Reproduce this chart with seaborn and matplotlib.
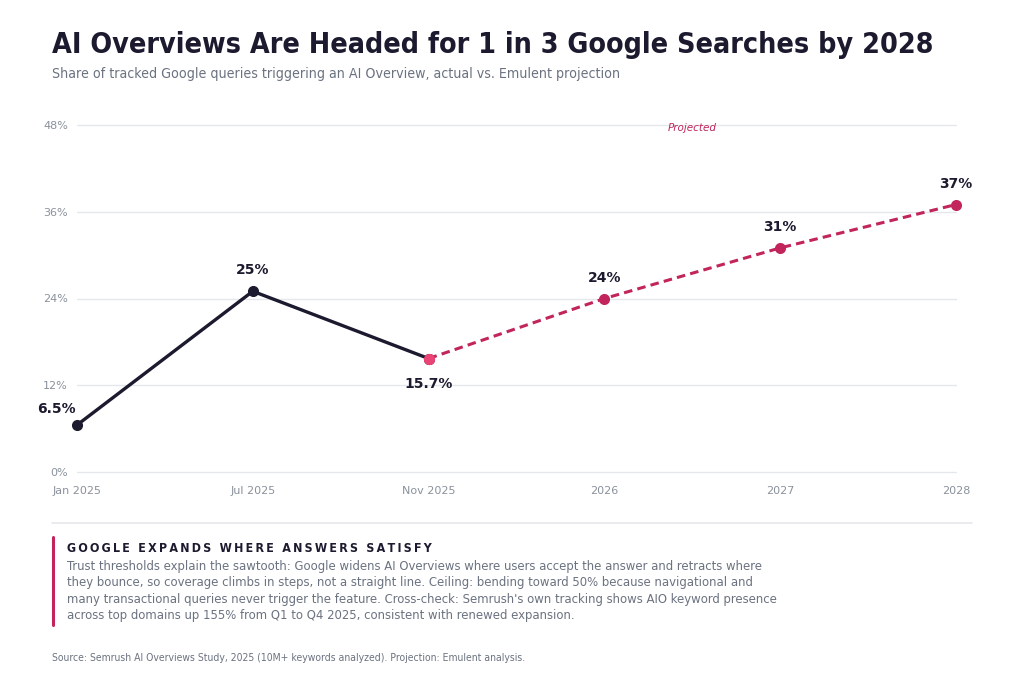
import matplotlib
matplotlib.use("Agg")
import matplotlib.pyplot as plt
import seaborn as sns
import pandas as pd

# Data
periods = ["Jan 2025", "Jul 2025", "Nov 2025", "2026", "2027", "2028"]
actual_idx = [0, 1, 2]
actual_vals = [6.5, 25, 15.7]
proj_idx = [2, 3, 4, 5]
proj_vals = [15.7, 24, 31, 37]
point_labels = ["6.5%", "25%", "15.7%", "24%", "31%", "37%"]
yticks = [0, 12, 24, 36, 48]

# Colours
navy = "#1b1a2e"
crimson = "#c2255c"
pink = "#ea4376"
grey = "#6b7280"
tick_grey = "#8a919b"
grid_grey = "#e5e7eb"

sns.set_theme(style="white")
plt.rcParams["font.family"] = ["DejaVu Sans"]
plt.rcParams["font.stretch"] = "condensed"

fig = plt.figure(figsize=(10.24, 6.83), dpi=100)
ax = fig.add_axes([77 / 1024, 1 - 472 / 683, (956 - 77) / 1024, (472 - 125) / 683])

actual = pd.DataFrame({"x": actual_idx, "y": actual_vals})
proj = pd.DataFrame({"x": proj_idx, "y": proj_vals})

sns.lineplot(data=actual, x="x", y="y", ax=ax, color=navy, lw=2.4,
             marker="o", markersize=8, markeredgewidth=0, zorder=3)
sns.lineplot(data=proj, x="x", y="y", ax=ax, color=crimson, lw=2.2,
             dashes=False, marker="o", markersize=8, markeredgewidth=0,
             zorder=3)
ax.lines[-1].set_linestyle((0, (2.8, 1.7)))
# the Nov 2025 hand-off point in a lighter pink
ax.plot([proj_idx[0]], [proj_vals[0]], "o", color=pink, markersize=8,
        markeredgewidth=0, zorder=4, clip_on=False)
for ln in ax.lines:
    ln.set_clip_on(False)

# value labels
all_idx = actual_idx + proj_idx[1:]
all_vals = actual_vals + proj_vals[1:]
offsets = [(-15, 11.5), (0, 15), (0, -18), (0, 15), (0, 15), (0, 15)]
for i, v, lab, off in zip(all_idx, all_vals, point_labels, offsets):
    ax.annotate(lab, (i, v), xytext=off, textcoords="offset points",
                ha="center", va="center", fontsize=10, fontweight="bold",
                color=navy, fontstretch="normal")

ax.text(3.5, 47.6, "Projected", ha="center", va="center", fontsize=7.5,
        style="italic", color=crimson, fontstretch="normal")

ax.set_xlim(0, len(periods) - 1)
ax.set_ylim(0, 48)
ax.set_xticks(range(len(periods)))
ax.set_xticklabels(periods)
ax.set_yticks(yticks)
ax.set_yticklabels([f"{t}%" for t in yticks])
ax.tick_params(axis="both", labelsize=8, colors=tick_grey, length=0)
ax.tick_params(axis="x", pad=10)
ax.tick_params(axis="y", pad=6.5)
for lab in ax.get_xticklabels() + ax.get_yticklabels():
    lab.set_fontstretch("normal")
ax.set_xlabel("")
ax.set_ylabel("")
ax.grid(axis="y", color=grid_grey, lw=1)
ax.grid(axis="x", visible=False)
for gl in ax.get_ygridlines():
    gl.set_clip_on(False)
for s in ax.spines.values():
    s.set_visible(False)

# titles
fig.text(52 / 1024, 1 - 45 / 683, "AI Overviews Are Headed for 1 in 3 Google Searches by 2028",
         fontsize=20.5, fontweight="bold", color=navy, va="center", ha="left")
fig.text(52 / 1024, 1 - 74 / 683,
         "Share of tracked Google queries triggering an AI Overview, actual vs. Emulent projection",
         fontsize=10.2, color=grey, va="center", ha="left")

# separator and note box
fig.add_artist(plt.Line2D([52 / 1024, 972 / 1024], [1 - 523 / 683] * 2,
                          color=grid_grey, lw=1.2))
fig.add_artist(plt.Line2D([53 / 1024] * 2, [1 - 537 / 683, 1 - 625 / 683],
                          color=crimson, lw=2.2))
heading = "GOOGLE EXPANDS WHERE ANSWERS SATISFY"
fig.text(67 / 1024, 1 - 548 / 683, "\u2009".join(heading), fontsize=8.9,
         fontweight="bold", color=navy, va="center", ha="left")
body = ("Trust thresholds explain the sawtooth: Google widens AI Overviews where users accept the answer and retracts where\n"
        "they bounce, so coverage climbs in steps, not a straight line. Ceiling: bending toward 50% because navigational and\n"
        "many transactional queries never trigger the feature. Cross-check: Semrush's own tracking shows AIO keyword presence\n"
        "across top domains up 155% from Q1 to Q4 2025, consistent with renewed expansion.")
fig.text(67 / 1024, 1 - 560 / 683, body, fontsize=9.4, color=grey, va="top",
         ha="left", linespacing=1.34)

fig.text(52 / 1024, 1 - 658 / 683,
         "Source: Semrush AI Overviews Study, 2025 (10M+ keywords analyzed). Projection: Emulent analysis.",
         fontsize=7.5, color=grey, va="center", ha="left")

fig.savefig("out.png", dpi=100)
